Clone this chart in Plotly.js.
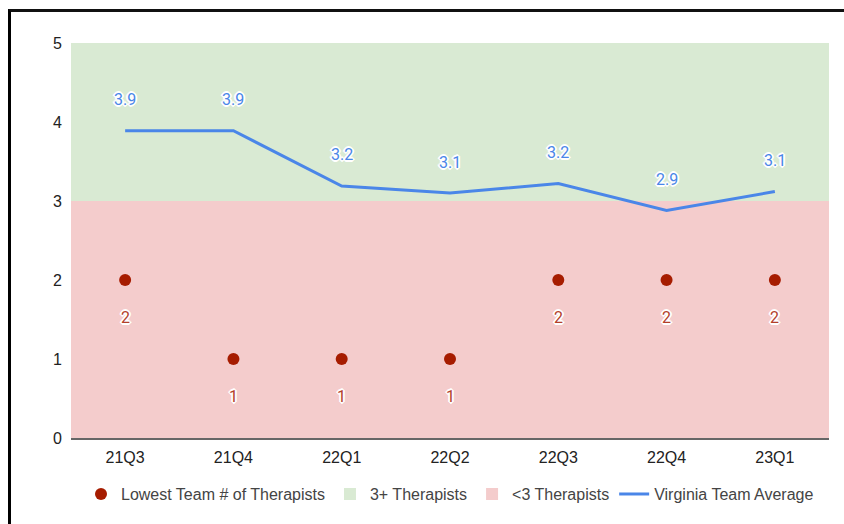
<!DOCTYPE html>
<html>
<head>
<meta charset="utf-8">
<script src="https://cdn.plot.ly/plotly-3.0.1.min.js"></script>
<style>
  html, body { margin: 0; padding: 0; background: #fff; }
  #chart { position: absolute; left: 0; top: 0; width: 844px; height: 524px; }
  #frame { position: absolute; left: 8px; top: 9px; width: 900px; height: 600px;
           border-left: 3px solid #000; border-top: 3px solid #111; pointer-events: none; }
</style>
</head>
<body>
<div id="chart"></div>
<div id="frame"></div>
<script>
const quarters = ["21Q3", "21Q4", "22Q1", "22Q2", "22Q3", "22Q4", "23Q1"];
const lowestTeam = [2, 1, 1, 1, 2, 2, 2];
const teamAverage = [3.89, 3.89, 3.19, 3.10, 3.22, 2.88, 3.12];
const bandLow = [3, 3, 3, 3, 3, 3, 3];      // <3 therapists: 0 to 3
const bandHigh = [2, 2, 2, 2, 2, 2, 2];     // 3+ therapists: 3 to 5

const outline = "2px 0 0 #fff, -2px 0 0 #fff, 0 2px 0 #fff, 0 -2px 0 #fff, 1px 1px 0 #fff, -1px -1px 0 #fff, 1px -1px 0 #fff, -1px 1px 0 #fff";
const blue = "#4a86e8", red = "#a61c00";

const data = [
  { type: "bar", x: quarters, y: bandLow, name: "<3 Therapists", legendrank: 3,
    marker: { color: "#f4cccc", line: { width: 0 } }, width: 1, hoverinfo: "skip" },
  { type: "bar", x: quarters, y: bandHigh, name: "3+ Therapists", legendrank: 2,
    marker: { color: "#d9ead3", line: { width: 0 } }, width: 1, hoverinfo: "skip" },
  { type: "scatter", mode: "lines", x: quarters, y: teamAverage, name: "Virginia Team Average",
    legendrank: 4, line: { color: blue, width: 3 } },
  { type: "scatter", mode: "markers", x: quarters, y: lowestTeam, name: "Lowest Team # of Therapists",
    legendrank: 1, marker: { color: red, size: 12 } }
];

const annotations = [];
quarters.forEach((q, i) => {
  annotations.push({ x: q, y: teamAverage[i], text: teamAverage[i].toFixed(1), showarrow: false,
    yshift: 31, font: { family: "Roboto", size: 16, color: blue, shadow: outline } });
  annotations.push({ x: q, y: lowestTeam[i], text: String(lowestTeam[i]), showarrow: false,
    yshift: -37, font: { family: "Roboto", size: 16, color: "#b3402a", shadow: outline } });
});

const layout = {
  width: 844, height: 524,
  margin: { l: 71, r: 15, t: 43, b: 86 },
  paper_bgcolor: "#fff", plot_bgcolor: "#fff",
  barmode: "stack", bargap: 0,
  font: { family: "Arial", size: 16, color: "#222" },
  showlegend: true,
  legend: { orientation: "h", x: 0.5, xanchor: "center", y: -0.142, yanchor: "middle",
            font: { family: "Arial", size: 16, color: "#444" }, traceorder: "normal" },
  xaxis: { type: "category", range: [-0.5, 6.5], showgrid: false, zeroline: false,
           showline: true, linecolor: "#666", linewidth: 2, ticks: "", ticklabelstandoff: 4,
           tickfont: { family: "Arial", size: 16, color: "#222" }, fixedrange: true },
  yaxis: { range: [0, 5], dtick: 1, showgrid: false, zeroline: false, showline: false,
           ticks: "", ticklabelstandoff: 8, tickfont: { family: "Arial", size: 16, color: "#222" }, fixedrange: true },
  annotations: annotations
};

Plotly.newPlot("chart", data, layout, { displayModeBar: false, staticPlot: true });
</script>
</body>
</html>
